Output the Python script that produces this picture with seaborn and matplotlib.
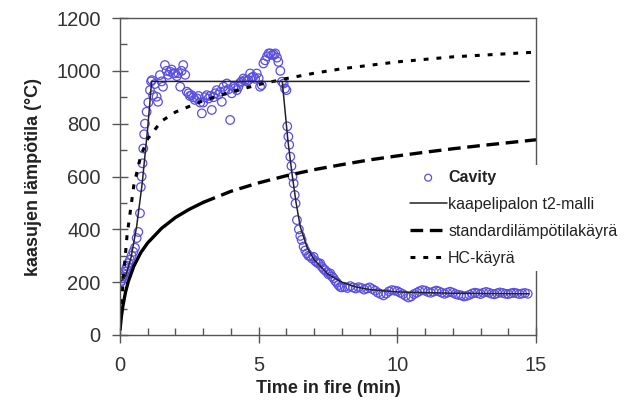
import matplotlib
matplotlib.use('Agg')
import matplotlib.pyplot as plt
import seaborn as sns
from matplotlib.ticker import MultipleLocator

cavity_time = [0.02, 0.05, 0.08, 0.11, 0.14, 0.18, 0.22, 0.26, 0.3, 0.36, 0.42, 0.48, 0.54,
               0.6, 0.66, 0.72, 0.75, 0.78, 0.81, 0.84, 0.87, 0.9, 0.96, 1.02, 1.08, 1.12,
               1.15, 1.19, 1.25, 1.32, 1.37, 1.44, 1.5, 1.55, 1.62, 1.68, 1.74, 1.8, 1.86, 1.92,
               1.99, 2.05, 2.1, 2.17, 2.22, 2.28, 2.35, 2.41, 2.47, 2.52, 2.58, 2.64, 2.7, 2.77,
               2.83, 2.89, 2.95, 3.0, 3.06, 3.13, 3.19, 3.25, 3.31, 3.37, 3.43, 3.49, 3.55, 3.61,
               3.67, 3.73, 3.79, 3.85, 3.91, 3.97, 4.03, 4.09, 4.15, 4.21, 4.27, 4.33, 4.39, 4.45,
               4.51, 4.57, 4.63, 4.69, 4.75, 4.81, 4.87, 4.93, 5.0, 5.05, 5.11, 5.17, 5.23, 5.3,
               5.36, 5.42, 5.48, 5.54, 5.6, 5.66, 5.71, 5.78, 5.84, 5.9, 5.95, 6.0,
               6.03, 6.07, 6.1, 6.14, 6.18, 6.22, 6.26, 6.3, 6.33, 6.38, 6.45, 6.5, 6.55, 6.62,
               6.68, 6.74, 6.8, 6.86, 6.92, 6.98, 7.04, 7.1, 7.16, 7.22, 7.28, 7.34, 7.4, 7.46,
               7.52, 7.58, 7.64, 7.7, 7.76, 7.82, 7.88, 7.94, 8.0,
               8.1, 8.2, 8.3, 8.4, 8.5, 8.6, 8.7, 8.8, 8.9, 9.0, 9.1, 9.2, 9.3, 9.4, 9.5, 9.6,
               9.7, 9.8, 9.9, 10.0, 10.1, 10.2, 10.3, 10.4, 10.5, 10.6, 10.7, 10.8, 10.9, 11.0,
               11.1, 11.2, 11.3, 11.4, 11.5, 11.6, 11.7, 11.8, 11.9, 12.0, 12.1, 12.2, 12.3, 12.4,
               12.5, 12.6, 12.7, 12.8, 12.9, 13.0, 13.1, 13.2, 13.3, 13.4, 13.5, 13.6, 13.7, 13.8,
               13.9, 14.0, 14.1, 14.2, 14.3, 14.4, 14.5, 14.6, 14.7]
cavity_temp = [200, 205, 215, 222, 230, 240, 250, 262, 272, 285, 300, 315, 330,
               367, 390, 461, 560, 600, 650, 706, 760, 800, 845, 880, 927, 960,
               965, 908, 950, 902, 883, 984, 960, 940, 1022, 1000, 985, 997, 1005, 990,
               991, 980, 991, 940, 1000, 1022, 985, 921, 915, 905, 908, 900, 890, 896,
               905, 880, 839, 880, 900, 908, 895, 905, 852, 900, 915, 927, 910, 921,
               883, 940, 925, 952, 930, 814, 915, 940, 935, 927, 940, 955, 960, 971,
               965, 960, 965, 990, 975, 978, 970, 990, 972, 940, 946, 1028, 1040, 1055,
               1066, 1066, 1060, 1062, 1066, 1050, 1034, 1000, 959, 952, 933, 927,
               790, 751, 720, 675, 640, 600, 574, 530, 498, 435, 400, 375, 360, 335,
               320, 309, 300, 298, 290, 296, 280, 275, 270, 271, 258, 250, 245, 238,
               230, 233, 222, 215, 205, 198, 189, 182, 180,
               182, 178, 185, 180, 176, 181, 178, 172, 176, 180, 174, 168, 160, 155, 150, 157,
               165, 170, 168, 166, 160, 155, 148, 142, 146, 155, 160, 166, 170, 168,
               163, 160, 164, 168, 165, 160, 156, 160, 164, 160, 155, 152, 150, 146,
               148, 152, 157, 160, 158, 155, 160, 163, 160, 156, 154, 158, 161, 159,
               156, 155, 158, 160, 158, 155, 157, 159, 156]

# t2 cable fire model: growth + plateau, and the cooling branch
t2_time = [0, 0.2, 0.4, 0.6, 0.8, 1.0, 1.14, 14.75]
t2_temp = [200, 223, 294, 411, 574, 785, 960, 960]
t2_decay_time = [5.85, 5.95, 6.05, 6.2, 6.35, 6.5, 6.75, 7.0, 7.5, 8.0, 8.5, 9.0, 10.0, 12.0, 14.75]
t2_decay_temp = [960, 850, 740, 612, 500, 410, 330, 285, 230, 200, 182, 172, 163, 158, 156]

# standard fire curve
std_time = [0, 0.05, 0.1, 0.2, 0.3, 0.5, 0.75, 1, 1.5, 2, 2.5, 3,
            4, 5, 6, 7, 8, 9, 10, 11, 12, 13, 14, 15]
std_temp = [20, 70, 108, 163, 203, 261, 312, 349, 404, 445, 476, 502,
            544, 576, 603, 626, 645, 663, 678, 692, 705, 717, 728, 739]

# hydrocarbon curve
hc_time = [0, 0.1, 0.25, 0.5, 0.75, 1, 1.5, 2, 3, 4, 5, 6, 7, 8, 10, 12, 15]
hc_temp = [20, 187, 373, 568, 679, 743, 810, 844, 887, 920, 948, 971, 991, 1008, 1034, 1053, 1071]

labels = ['Cavity', 'kaapelipalon t2-malli', 'standardilämpötilakäyrä', 'HC-käyrä']

sns.set_style('white')
plt.rcParams['font.family'] = ['Liberation Sans', 'DejaVu Sans']

fig, ax = plt.subplots(figsize=(6.27, 4.04), dpi=100)
fig.subplots_adjust(left=0.1914, right=0.8549, bottom=0.1708, top=0.9554)

blue = '#5a4fe0'
sns.scatterplot(x=cavity_time, y=cavity_temp, ax=ax, marker='o', s=38,
                facecolor='none', edgecolor=blue, linewidth=0.9, zorder=2)

n_solid = 12  # the standard curve looks solid where its points are dense
sns.lineplot(x=std_time[:n_solid], y=std_temp[:n_solid], ax=ax, color='black', lw=2.4)
sns.lineplot(x=std_time[n_solid - 1:], y=std_temp[n_solid - 1:], ax=ax, color='black', lw=2.4,
             linestyle=(0, (3.8, 2.0)))
sns.lineplot(x=hc_time, y=hc_temp, ax=ax, color='black', lw=2.2, linestyle=(0, (1.6, 2.6)))
sns.lineplot(x=t2_time, y=t2_temp, ax=ax, color='#222222', lw=1.1)
sns.lineplot(x=t2_decay_time, y=t2_decay_temp, ax=ax, color='#222222', lw=1.1)

ax.set_xlim(0, 15)
ax.set_ylim(0, 1200)
ax.xaxis.set_major_locator(MultipleLocator(5))
ax.xaxis.set_minor_locator(MultipleLocator(1))
ax.yaxis.set_major_locator(MultipleLocator(200))
ax.yaxis.set_minor_locator(MultipleLocator(100))
ax.tick_params(which='both', bottom=True, left=True, top=False, right=False,
               colors='#555555', labelcolor='#333333', labelsize=14.5)
ax.tick_params(which='major', direction='inout', length=12, width=1)
ax.tick_params(which='minor', direction='in', length=5, width=1)
ax.tick_params(axis='x', which='major', pad=9)
ax.tick_params(axis='y', which='major', pad=8)
for s in ax.spines.values():
    s.set_color('#555555')
    s.set_linewidth(1)

ax.set_xlabel('Time in fire (min)', fontsize=13, fontweight='bold', color='#222222', labelpad=4)
ax.set_ylabel('kaasujen lämpötila (°C)', fontsize=13, fontweight='bold', color='#222222', labelpad=10)

handles = [ax.collections[0], ax.lines[3], ax.lines[1], ax.lines[2]]
leg = ax.legend(handles, labels, loc='upper left', bbox_to_anchor=(0.685, 0.536),
                borderaxespad=0, borderpad=0.3, fontsize=11.5, handlelength=2.3,
                handletextpad=0.1, labelspacing=0.75, frameon=True, fancybox=False,
                framealpha=1, edgecolor='none', facecolor='white', markerscale=0.8)
leg.get_texts()[0].set_fontweight('bold')
for t in leg.get_texts():
    t.set_color('#222222')

fig.savefig('out.png', dpi=100)
